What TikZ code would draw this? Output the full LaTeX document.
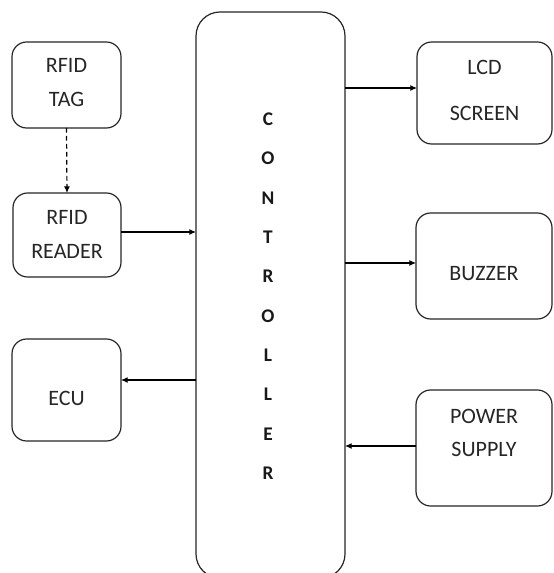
\documentclass[tikz,border=0pt]{standalone}
\usepackage{fontspec}
\setmainfont{Carlito}
\usetikzlibrary{arrows.meta,calc}
\begin{document}
\begin{tikzpicture}[x=0.75pt,y=-0.75pt,
  box/.style={draw=black!85, line width=0.9pt, rounded corners=11pt, inner sep=0pt, outer sep=0pt},
  lbl/.style={align=center, text=black!85, font=\fontsize{16.5}{25.5}\selectfont},
  arr/.style={draw=black, line width=0.9pt, -{Latex[length=5pt,width=4.5pt]}},
  dasharr/.style={arr, dashed, dash pattern=on 3.5pt off 2.5pt}]
\useasboundingbox (0,0) rectangle (553,573);
\fill[white] (0,0) rectangle (553,573);
% boxes
\node[box, minimum width=81.75pt, minimum height=64.5pt] (tag) at (66.5,85) {};
\node[box, minimum width=81pt, minimum height=63pt] (reader) at (67,235) {};
\node[box, minimum width=81.75pt, minimum height=76.5pt] (ecu) at (66.5,390) {};
\node[box, minimum width=101.25pt, minimum height=76.5pt] (lcd) at (484.5,93) {};
\node[box, minimum width=102pt, minimum height=79.5pt] (buzzer) at (484,266) {};
\node[box, minimum width=102pt, minimum height=87pt] (power) at (484,448) {};
\node[box, rounded corners=18pt, minimum width=111.75pt, minimum height=424.5pt] (ctrl) at (270.5,295) {};
% labels
\node[lbl] (tagt) at (66.5,83) {RFID\\TAG};
\node[lbl] (readert) at (67,234) {RFID\\READER};
\node[lbl] (ecut) at (66.5,398) {ECU};
\node[lbl, font=\fontsize{16.5}{34.5}\selectfont] (lcdt) at (484.5,90) {LCD\\SCREEN};
\node[lbl] (buzzert) at (484,274) {BUZZER};
\node[lbl, font=\fontsize{16.5}{24.75}\selectfont] (powert) at (484,432.5) {POWER\\SUPPLY};
\node[align=center, text=black!90, font=\fontsize{14.5}{29.5}\selectfont\bfseries] (ctrlt) at (268,296)
  {C\\O\\N\\T\\R\\O\\L\\L\\E\\R};
% connectors
\draw[dasharr] (tag.south) -- (reader.north);
\draw[arr] ($(reader.east)+(0,-3)$) -- ($(reader.east -| ctrl.west)+(0,-3)$);
\draw[arr] ($(ecu.east -| ctrl.west)+(0,-10)$) -- ($(ecu.east)+(0,-10)$);
\draw[arr] ($(lcd.west -| ctrl.east)+(0,-5)$) -- ($(lcd.west)+(0,-5)$);
\draw[arr] ($(buzzer.west -| ctrl.east)+(0,-3)$) -- ($(buzzer.west)+(0,-3)$);
\draw[arr] ($(power.west)+(0,-2)$) -- ($(power.west -| ctrl.east)+(0,-2)$);
\end{tikzpicture}
\end{document}
